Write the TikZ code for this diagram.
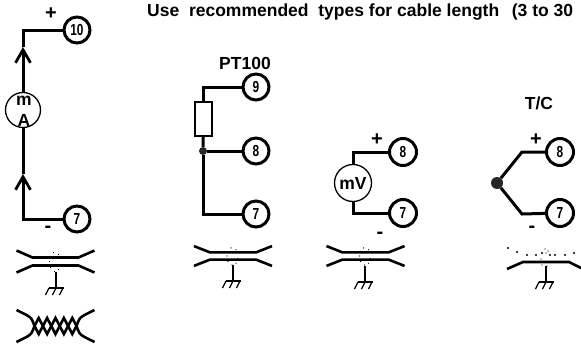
\documentclass[tikz,border=0pt]{standalone}
\usepackage{fontspec}
\setmainfont{Liberation Sans}
\newfontfamily\numberfont[FakeStretch=0.74]{Liberation Sans}
\usetikzlibrary{arrows.meta, positioning}
\tikzset{
    x=1pt, y=-1pt,
    font=\fontsize{17.5}{20}\selectfont\bfseries,
    % --- nodes ---
    terminal/.style={
        circle, draw=black, fill=white, line width=3pt, inner sep=0pt,
        minimum size=26pt, font=\numberfont\fontsize{16}{18}\selectfont\bfseries
    },
    meter/.style={
        circle, draw=black, fill=white, line width=1.3pt, inner sep=0pt,
        minimum size=35pt
    },
    resistor/.style={
        rectangle, draw=black, fill=white, line width=1.2pt, inner sep=0pt,
        minimum width=17pt, minimum height=34pt
    },
    junction/.style={circle, fill=black!85, inner sep=0pt},
    signText/.style={inner sep=0pt, yshift=-2pt, font=\fontsize{20}{20}\selectfont\bfseries},
    % --- wires ---
    wire/.style={draw=black, line width=3pt},
    flowWire/.style={wire, -{Straight Barb[length=13pt, width=15pt, line width=2.8pt]}},
    cableWire/.style={draw=black, line width=2.6pt},
    thinWire/.style={draw=black, line width=1.3pt},
    % --- small icons ---
    cableIcon/.pic = {
        \draw[cableWire] (-39,-11) -- (-23,-4) -- (23,-4) -- (39,-11);
        \draw[cableWire] (-39,11) -- (-23,4) -- (23,4) -- (39,11);
        \foreach \dx/\dy in {-2/-9, 3/-7, -5/-5, -6/0, 5/3, -5/6, 3/8, -1/10}
            \fill (\dx,\dy) circle (0.7);
    },
    groundIcon/.pic = {
        \draw[thinWire] (0,-16) -- (0,0);
        \draw[thinWire] (-7,0) -- (8,0);
        \foreach \dx in {-7,0,7}
            \draw[thinWire] (\dx,0) -- (\dx-3.5,7);
    },
    twistIcon/.pic = {
        \draw[cableWire] (-39,-16) -- (-29,-11) .. controls (-24,-8) .. (-21,0);
        \draw[cableWire] (-39,16) -- (-29,11) .. controls (-24,8) .. (-21,0);
        \draw[cableWire] (39,-16) -- (29,-11) .. controls (24,-8) .. (21,0);
        \draw[cableWire] (39,16) -- (29,11) .. controls (24,8) .. (21,0);
        \foreach \dx in {-21,-12.6,-4.2,4.2,12.6}
            \draw[cableWire] (\dx,0) -- (\dx+4.2,-8) -- (\dx+8.4,0) -- (\dx+4.2,8) -- cycle;
    },
    tcShieldIcon/.pic = {
        \draw[cableWire] (-39,7) -- (-23,0) -- (23,0) -- (35,6);
        \foreach \dx/\dy in {-38/-14, -29/-10, -19/-7, -10/-7, -4/-9, 4/-7, 9/-7, 19/-7, 28/-9}
            \fill (\dx,\dy) circle (1.1);
        \foreach \dx/\dy in {0/-9, -1/-13, 2/-11, -5/-3, -4/3, 1/4}
            \fill (\dx,\dy) circle (0.7);
    }
}
\begin{document}
\begin{tikzpicture}
    \useasboundingbox (0,0) rectangle (581,343);

    % Heading
    \node [anchor=west, inner sep=0pt] (heading) at (147,12) {Use\ \ recommended\ \ types for cable length\ \ \,(3 to 30};

    % mA loop
    \node [terminal] (tTen) at (77,30) {10};
    \node [terminal] (tSevenA) at (77,219) {7};
    \node [meter] (mA) at (23,110) {};
    \node [inner sep=0pt, align=center, font=\fontsize{17.5}{21}\selectfont\bfseries] (mAtext) at (24,111) {m\\A};
    \coordinate (arrowHigh) at (23,47);
    \coordinate (arrowLow) at (23,174);
    \node [signText] (plusA) at (51,12) {+};
    \node [signText] (minusA) at (48,227) {-};

    \draw [flowWire] (mA) -- (arrowHigh);
    \draw [wire] (arrowHigh) |- (tTen);
    \draw [flowWire] (tSevenA) -| (arrowLow);
    \draw [wire] (arrowLow) -- (mA);

    % PT100
    \node (ptLabel) at (245,63) {PT100};
    \node [terminal] (tNine) at (256,87) {9};
    \node [terminal] (tEightB) at (256,151) {8};
    \node [terminal] (tSevenB) at (256,214) {7};
    \node [resistor] (rtd) at (203.5,119) {};
    \node [junction, minimum size=8pt] (jointB) at (203,151) {};

    \draw [wire] (rtd) |- (tNine);
    \draw [wire] (rtd) -- (jointB);
    \draw [wire] (jointB) -- (tEightB);
    \draw [wire] (jointB) |- (tSevenB);

    % mV
    \node [terminal, minimum size=27pt] (tEightC) at (403,152) {8};
    \node [terminal, minimum size=27pt] (tSevenC) at (403,213) {7};
    \node [meter, minimum size=37pt] (mV) at (353,183) {mV};
    \node [signText] (plusC) at (377,138) {+};
    \node [signText] (minusC) at (380,233) {-};

    \draw [wire] (mV) |- (tEightC);
    \draw [wire] (mV) |- (tSevenC);

    % T/C
    \node (tcLabel) at (539,103) {T/C};
    \node [terminal, minimum size=27pt] (tEightD) at (560,152) {8};
    \node [terminal, minimum size=27pt] (tSevenD) at (560,213) {7};
    \node [junction, minimum size=12pt] (jointD) at (497,183) {};
    \coordinate (bendHigh) at (522,152);
    \coordinate (bendLow) at (522,214);
    \node [signText] (plusD) at (536,138) {+};
    \node [signText] (minusD) at (532,227) {-};

    \draw [wire] (jointD) -- (bendHigh) -- (tEightD);
    \draw [wire] (jointD) -- (bendLow) -- (tSevenD);

    % Cable symbols
    \pic (cableA) at (55.5,261.5) {cableIcon};
    \pic (groundA) at (56,288) {groundIcon};
    \pic (twistA) at (55.5,326) {twistIcon};
    \pic [yscale=0.9] (cableB) at (233,256) {cableIcon};
    \pic (groundB) at (233,281) {groundIcon};
    \pic [yscale=0.9] (cableC) at (365.5,256) {cableIcon};
    \pic (groundC) at (365,282) {groundIcon};
    \pic (cableD) at (546,262) {tcShieldIcon};
    \pic (groundD) at (546,282) {groundIcon};

\end{tikzpicture}
\end{document}
